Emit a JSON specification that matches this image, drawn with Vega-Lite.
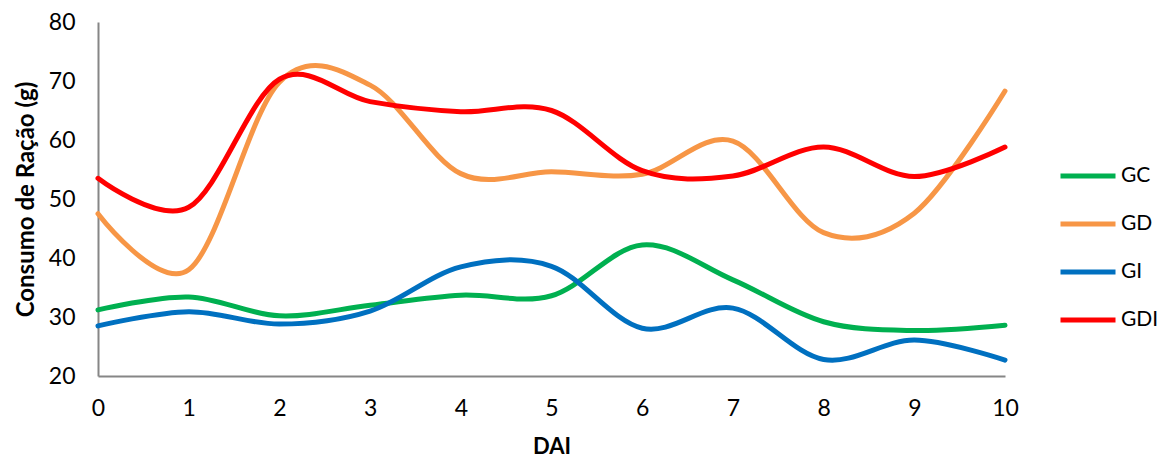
{
  "$schema": "https://vega.github.io/schema/vega-lite/v6.json",
  "autosize": "none",
  "width": 907,
  "height": 354,
  "padding": {"left": 98, "top": 22, "right": 154, "bottom": 83},
  "background": "white",
  "config": {
    "font": "Lato",
    "view": {"stroke": null}
  },
  "data": {
    "values": [
      {"dai": 0, "grupo": "GC", "consumo": 31.2},
      {"dai": 1, "grupo": "GC", "consumo": 33.4},
      {"dai": 2, "grupo": "GC", "consumo": 30.2},
      {"dai": 3, "grupo": "GC", "consumo": 32.0},
      {"dai": 4, "grupo": "GC", "consumo": 33.7},
      {"dai": 5, "grupo": "GC", "consumo": 33.6},
      {"dai": 6, "grupo": "GC", "consumo": 42.2},
      {"dai": 7, "grupo": "GC", "consumo": 36.3},
      {"dai": 8, "grupo": "GC", "consumo": 29.2},
      {"dai": 9, "grupo": "GC", "consumo": 27.7},
      {"dai": 10, "grupo": "GC", "consumo": 28.6},
      {"dai": 0, "grupo": "GD", "consumo": 47.5},
      {"dai": 1, "grupo": "GD", "consumo": 38.0},
      {"dai": 2, "grupo": "GD", "consumo": 69.8},
      {"dai": 3, "grupo": "GD", "consumo": 69.3},
      {"dai": 4, "grupo": "GD", "consumo": 54.3},
      {"dai": 5, "grupo": "GD", "consumo": 54.6},
      {"dai": 6, "grupo": "GD", "consumo": 54.2},
      {"dai": 7, "grupo": "GD", "consumo": 59.8},
      {"dai": 8, "grupo": "GD", "consumo": 44.3},
      {"dai": 9, "grupo": "GD", "consumo": 47.6},
      {"dai": 10, "grupo": "GD", "consumo": 68.3},
      {"dai": 0, "grupo": "GI", "consumo": 28.5},
      {"dai": 1, "grupo": "GI", "consumo": 30.9},
      {"dai": 2, "grupo": "GI", "consumo": 28.8},
      {"dai": 3, "grupo": "GI", "consumo": 31.0},
      {"dai": 4, "grupo": "GI", "consumo": 38.5},
      {"dai": 5, "grupo": "GI", "consumo": 38.6},
      {"dai": 6, "grupo": "GI", "consumo": 28.1},
      {"dai": 7, "grupo": "GI", "consumo": 31.5},
      {"dai": 8, "grupo": "GI", "consumo": 22.8},
      {"dai": 9, "grupo": "GI", "consumo": 26.1},
      {"dai": 10, "grupo": "GI", "consumo": 22.7},
      {"dai": 0, "grupo": "GDI", "consumo": 53.5},
      {"dai": 1, "grupo": "GDI", "consumo": 48.6},
      {"dai": 2, "grupo": "GDI", "consumo": 70.3},
      {"dai": 3, "grupo": "GDI", "consumo": 66.5},
      {"dai": 4, "grupo": "GDI", "consumo": 64.8},
      {"dai": 5, "grupo": "GDI", "consumo": 65.0},
      {"dai": 6, "grupo": "GDI", "consumo": 54.8},
      {"dai": 7, "grupo": "GDI", "consumo": 53.9},
      {"dai": 8, "grupo": "GDI", "consumo": 58.8},
      {"dai": 9, "grupo": "GDI", "consumo": 53.8},
      {"dai": 10, "grupo": "GDI", "consumo": 58.8}
    ]
  },
  "mark": {"type": "line", "interpolate": "cardinal", "strokeWidth": 5, "strokeCap": "round"},
  "encoding": {
    "x": {
      "field": "dai",
      "type": "quantitative",
      "scale": {"domain": [0, 10], "nice": false, "zero": false},
      "axis": {
        "title": "DAI",
        "titleFontSize": 22,
        "titleFontWeight": "bold",
        "titleColor": "black",
        "titlePadding": 16,
        "values": [0, 1, 2, 3, 4, 5, 6, 7, 8, 9, 10],
        "labelFontSize": 23,
        "labelColor": "black",
        "labelPadding": 21,
        "labelFlush": false,
        "ticks": false,
        "grid": false,
        "domainColor": "#868686",
        "domainWidth": 2
      }
    },
    "y": {
      "field": "consumo",
      "type": "quantitative",
      "scale": {"domain": [20, 80], "nice": false, "zero": false},
      "axis": {
        "title": "Consumo de Ração (g)",
        "titleFontSize": 24,
        "titleFontWeight": "bold",
        "titleColor": "black",
        "titlePadding": 10,
        "values": [20, 30, 40, 50, 60, 70, 80],
        "labelFontSize": 23,
        "labelColor": "black",
        "labelPadding": 23,
        "labelFlush": false,
        "ticks": false,
        "grid": false,
        "domainColor": "#868686",
        "domainWidth": 2
      }
    },
    "color": {
      "field": "grupo",
      "type": "nominal",
      "scale": {
        "domain": ["GC", "GD", "GI", "GDI"],
        "range": ["#00B050", "#F79646", "#0070C0", "#FF0000"]
      },
      "legend": {
        "title": null,
        "orient": "none",
        "legendX": 960,
        "legendY": 124,
        "symbolType": "stroke",
        "symbolSize": 3025,
        "symbolStrokeWidth": 5,
        "labelFontSize": 21,
        "labelColor": "black",
        "labelOffset": 3,
        "rowPadding": 8
      }
    }
  }
}
